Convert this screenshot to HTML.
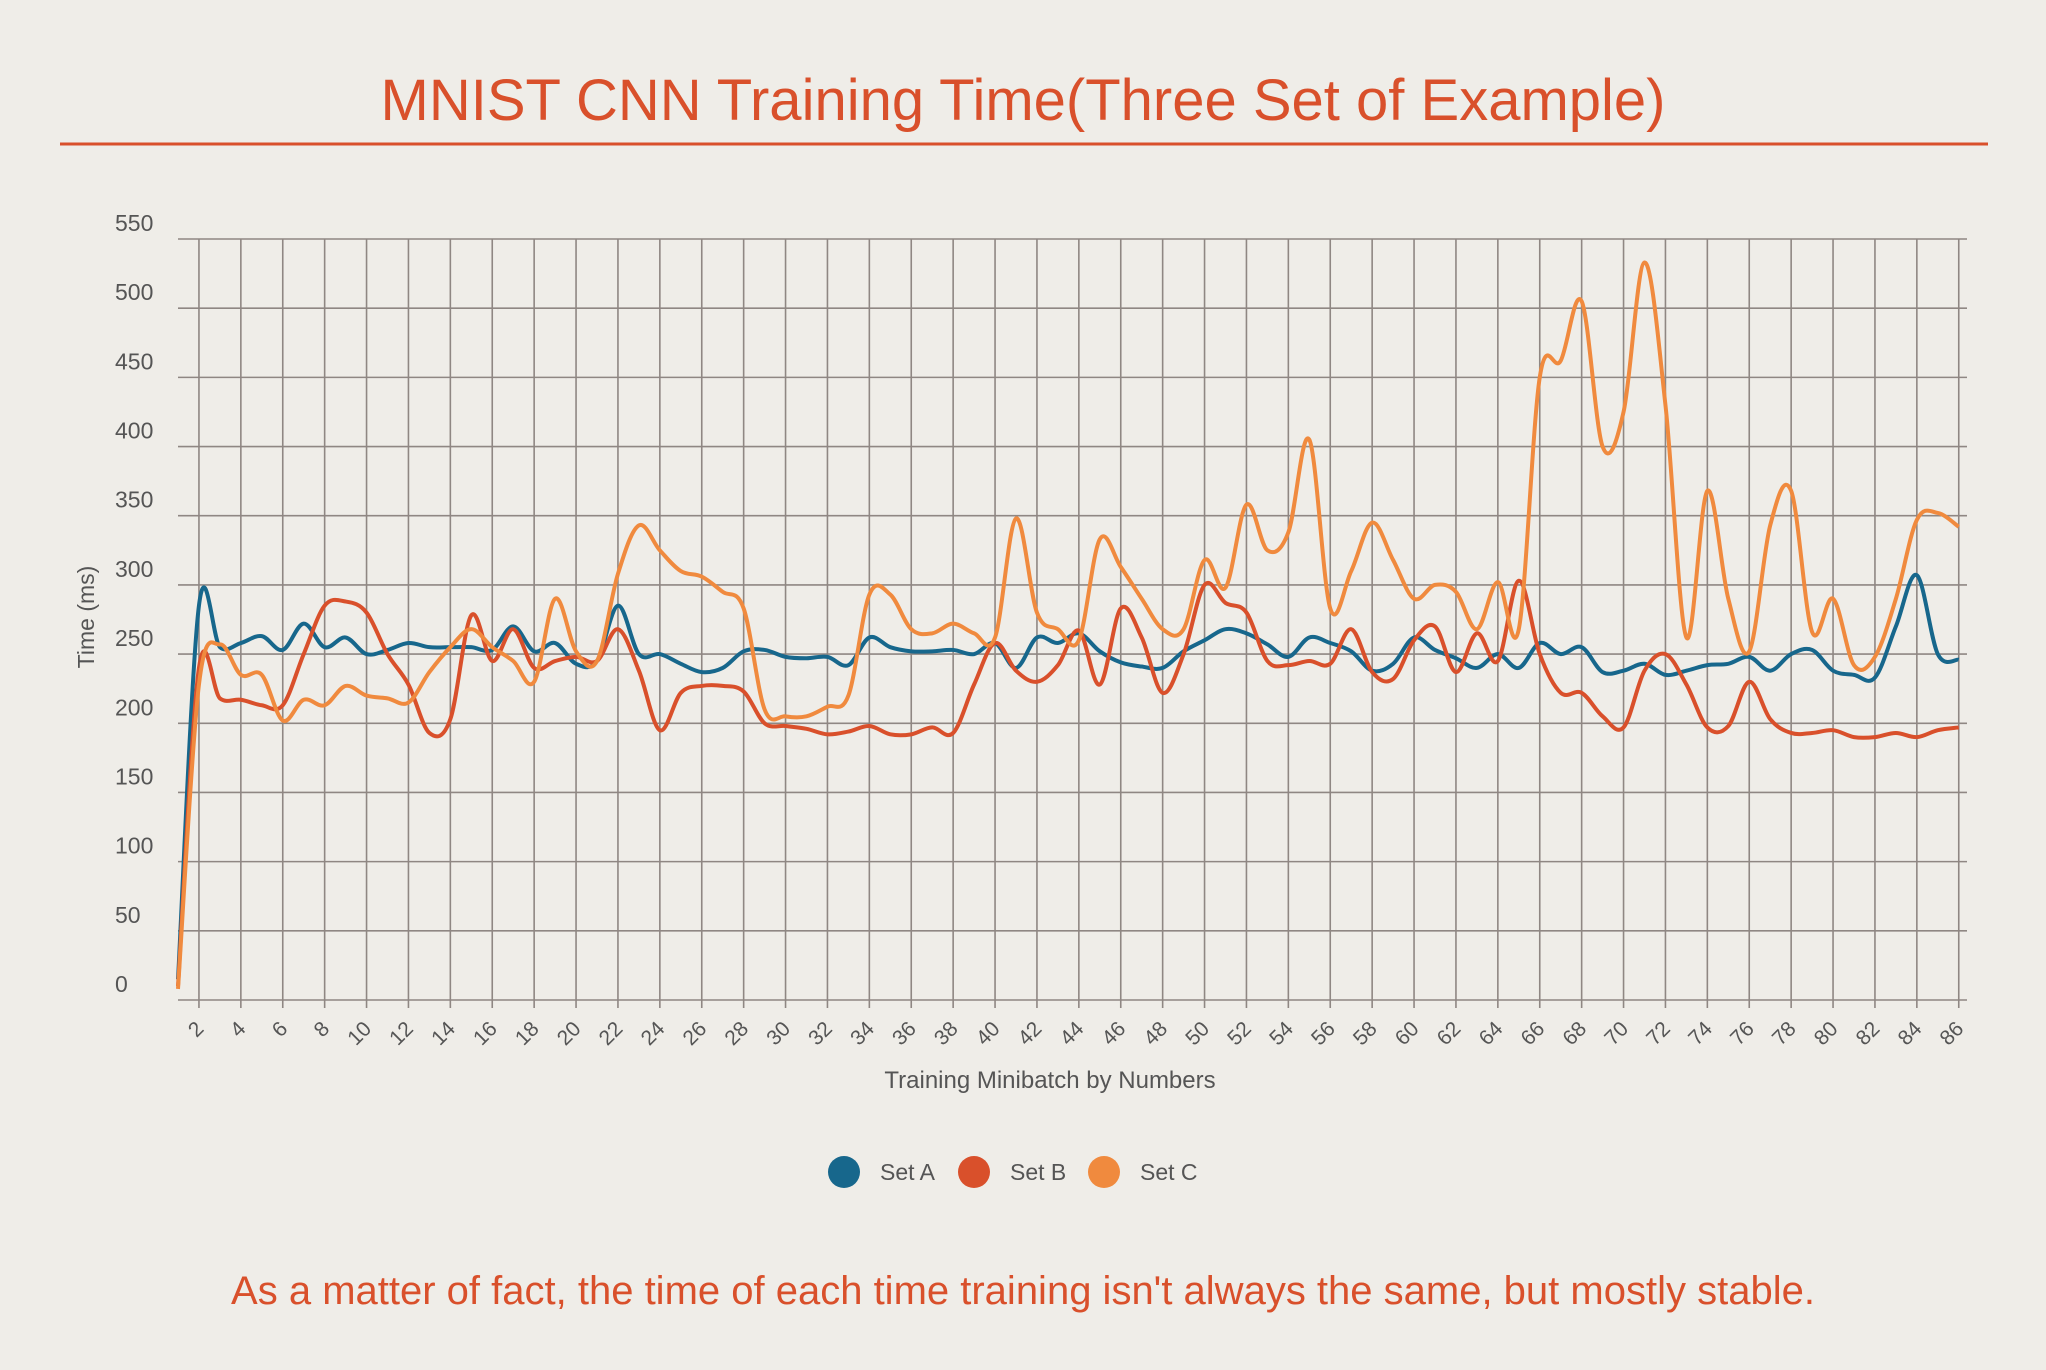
<!DOCTYPE html>
<html><head><meta charset="utf-8"><style>
html,body{margin:0;padding:0;background:#efede8;}
svg{display:block;font-family:"Liberation Sans","DejaVu Sans",sans-serif;}
</style></head><body>
<svg id="chart" width="2046" height="1370" viewBox="0 0 2046 1370">
<rect width="2046" height="1370" fill="#efede8"/>
<text x="1023" y="120" text-anchor="middle" font-size="58" fill="#d9502b">MNIST CNN Training Time(Three Set of Example)</text>
<line x1="60" y1="144" x2="1988" y2="144" stroke="#d9502b" stroke-width="3"/>
<g id="grid"></g>
<g id="yticks"></g>
<g id="xticks"></g>
<g id="series"></g>
<text x="94" y="617" transform="rotate(-90 94 617)" text-anchor="middle" font-size="23" fill="#555">Time (ms)</text>
<text x="1050" y="1088" text-anchor="middle" font-size="24" fill="#555">Training Minibatch by Numbers</text>
<g>
<g><circle cx="844" cy="1172" r="16" fill="#17678c"/><text x="880" y="1180" font-size="23" fill="#555">Set A</text></g>
<g><circle cx="974" cy="1172" r="16" fill="#d9502b"/><text x="1010" y="1180" font-size="23" fill="#555">Set B</text></g>
<g><circle cx="1104" cy="1172" r="16" fill="#f08a3e"/><text x="1140" y="1180" font-size="23" fill="#555">Set C</text></g>
</g>
<text x="1023" y="1304" text-anchor="middle" font-size="40" fill="#d9502b">As a matter of fact, the time of each time training isn't always the same, but mostly stable.</text>
</svg>
<script>
const setA=[15,285,255,258,263,253,272,255,262,250,253,258,255,255,255,253,270,252,258,243,245,285,250,250,243,237,240,252,253,248,247,248,242,262,255,252,252,253,250,258,240,262,258,265,252,244,241,240,252,260,268,265,257,248,262,258,252,238,243,262,253,247,240,250,240,258,250,255,237,238,243,235,238,242,243,248,238,250,253,238,235,233,270,307,250,246];
const setB=[10,240,218,217,213,213,250,285,288,280,250,228,193,203,278,245,268,240,245,248,245,268,238,195,222,227,227,223,200,198,196,192,194,198,192,192,197,193,228,258,238,230,242,267,228,283,262,222,250,300,287,280,245,242,245,243,268,237,232,260,270,237,265,245,303,250,222,222,205,197,238,250,228,197,198,230,203,193,193,195,190,190,193,190,195,197];
const setC=[8,228,257,235,235,202,217,213,227,220,218,215,237,255,268,255,245,230,290,252,245,308,343,325,310,306,295,283,210,205,205,212,220,293,293,268,265,272,265,262,348,280,268,260,333,313,290,268,268,318,298,358,325,338,405,283,310,345,318,290,300,295,268,302,268,450,462,505,400,425,533,430,262,368,290,252,343,368,266,290,242,248,290,347,352,342];
const yTicks=[0,50,100,150,200,250,300,350,400,450,500,550];
const seriesNames=["set-a","set-b","set-c"];
const seriesColors=["#17678c","#d9502b","#f08a3e"];

const NS="http://www.w3.org/2000/svg";
const X0=178, XU=20.95, Y0=1000, YS=761/550;
const xs=i=>X0+(i-1)*XU;
const ys=v=>Y0-v*YS;
function mk(tag,attrs,parent){const e=document.createElementNS(NS,tag);for(const k in attrs)e.setAttribute(k,attrs[k]);parent.appendChild(e);return e;}
const grid=document.getElementById('grid'),yt=document.getElementById('yticks'),xt=document.getElementById('xticks'),sg=document.getElementById('series');
yTicks.forEach(t=>{
  const l=mk('line',{x1:178,x2:1967,y1:ys(t),y2:ys(t),stroke:'#8f8783','stroke-width':1.6},grid);
  
  
  const tx=mk('text',{x:115,y:ys(t)-8,'font-size':23,fill:'#555'},yt);
  tx.textContent=t;
  
  
});
for(let i=2;i<=setA.length;i+=2){
  const l=mk('line',{x1:xs(i),x2:xs(i),y1:ys(550),y2:ys(0)+8,stroke:'#8f8783','stroke-width':1.6},grid);
  
  
  const x=xs(i)+6,y=1030;
  const tx=mk('text',{x:x,y:y,'font-size':21,fill:'#555','text-anchor':'end',transform:`rotate(-45 ${x} ${y})`},xt);
  tx.textContent=i;
  
  
}
function smooth(pts){
  let d=`M${pts[0][0]},${pts[0][1]}`;
  for(let i=0;i<pts.length-1;i++){
    const p0=pts[Math.max(0,i-1)],p1=pts[i],p2=pts[i+1],p3=pts[Math.min(pts.length-1,i+2)];
    const t=0.17;
    const c1=[p1[0]+(p2[0]-p0[0])*t,p1[1]+(p2[1]-p0[1])*t];
    const c2=[p2[0]-(p3[0]-p1[0])*t,p2[1]-(p3[1]-p1[1])*t];
    d+=` C${c1[0]},${c1[1]} ${c2[0]},${c2[1]} ${p2[0]},${p2[1]}`;
  }
  return d;
}
[setA,setB,setC].forEach((s,k)=>{
  const pts=s.map((v,i)=>[xs(i+1),ys(v)]);
  const p=mk('path',{d:smooth(pts),fill:'none',stroke:seriesColors[k],'stroke-width':4,'stroke-linejoin':'round'},sg);
  
  
});
</script>
</body></html>
